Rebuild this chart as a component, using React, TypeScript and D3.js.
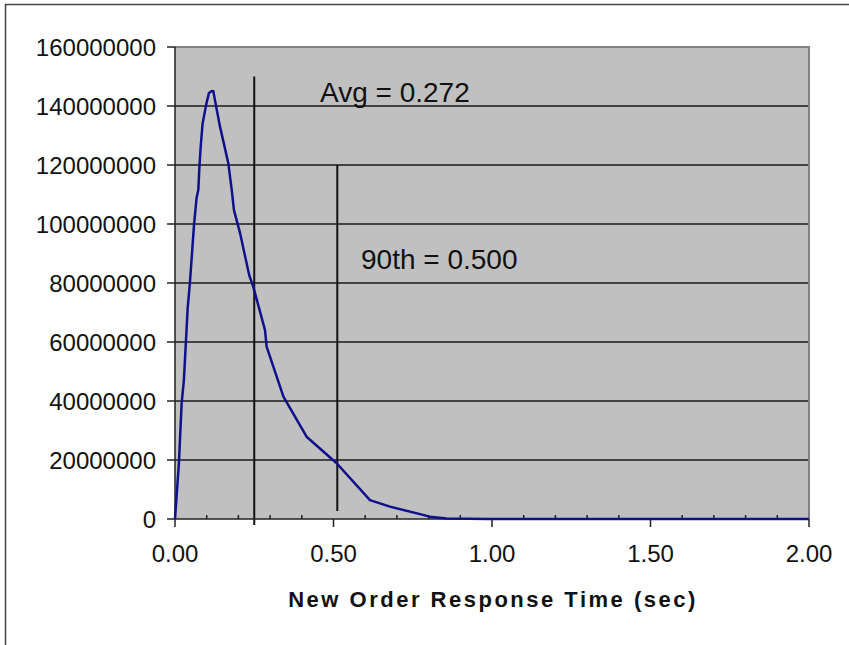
import React, { useEffect, useRef } from 'react';
import * as d3 from 'd3';

// response time (sec) vs. count
const times = [0, 0.0126, 0.021, 0.028, 0.04, 0.047, 0.06, 0.068, 0.0735, 0.077, 0.081, 0.087, 0.098, 0.107, 0.116, 0.121, 0.126, 0.142, 0.168, 0.179, 0.186, 0.205, 0.234, 0.247, 0.284, 0.289, 0.342, 0.415, 0.51, 0.615, 0.678, 0.804, 0.857, 0.99, 2.0];
const counts = [0, 19.4e6, 39.3e6, 47e6, 71.5e6, 80e6, 99.7e6, 108.8e6, 111.5e6, 119.4e6, 126.2e6, 134e6, 140.3e6, 144.4e6, 145.1e6, 145e6, 142e6, 133e6, 120.7e6, 111.5e6, 104.7e6, 97e6, 82.7e6, 78.7e6, 64e6, 58.4e6, 41.5e6, 27.9e6, 18.9e6, 6.4e6, 4.2e6, 0.8e6, 0.2e6, 0, 0];

const yTicks = [0, 20000000, 40000000, 60000000, 80000000, 100000000, 120000000, 140000000, 160000000];
const xMajor = [0, 0.5, 1.0, 1.5, 2.0];
const xMinor = [0.1, 0.2, 0.3, 0.4, 0.6, 0.7, 0.8, 0.9, 1.1, 1.2, 1.3, 1.4, 1.6, 1.7, 1.8, 1.9];

// vertical marker lines: [x, yFrom, yTo]
const avgLine = [0.25, 150e6, -2e6];
const p90Line = [0.512, 120e6, 2.7e6];
const avgLabel = 'Avg = 0.272';
const p90Label = '90th = 0.500';
const xTitle = 'New Order Response Time (sec)';

const W = 849;
const H = 645;
const FONT = '"Liberation Sans", Arial, sans-serif';

export default function App() {
  const ref = useRef<SVGSVGElement>(null);

  useEffect(() => {
    document.body.style.margin = '0';
    const svg = d3.select(ref.current);
    svg.selectAll('*').remove();

    const left = 175, right = 809, top = 47, bottom = 519;
    const x = d3.scaleLinear().domain([0, 2]).range([left, right]);
    const y = d3.scaleLinear().domain([0, 160000000]).range([bottom, top]);

    svg.append('rect').attr('width', W).attr('height', H).attr('fill', '#fff');

    // outer frame (cut off at right and bottom)
    svg.append('path')
      .attr('d', `M5.5,${H + 5} V4.5 H${W + 5}`)
      .attr('fill', 'none')
      .attr('stroke', '#444')
      .attr('stroke-width', 1.5);

    // plot area
    svg.append('rect')
      .attr('x', left).attr('y', top)
      .attr('width', right - left).attr('height', bottom - top)
      .attr('fill', '#c0c0c0');

    // horizontal gridlines
    svg.append('g').selectAll('line')
      .data(yTicks.filter(d => d > 0 && d < 160000000))
      .join('line')
      .attr('x1', left).attr('x2', right)
      .attr('y1', d => y(d)).attr('y2', d => y(d))
      .attr('stroke', '#1a1a1a').attr('stroke-width', 1.5);

    // gray frame on top and right
    svg.append('path')
      .attr('d', `M${left},${top} H${right} V${bottom}`)
      .attr('fill', 'none')
      .attr('stroke', '#808080')
      .attr('stroke-width', 2);

    // y axis
    svg.append('line')
      .attr('x1', left).attr('x2', left).attr('y1', top).attr('y2', bottom)
      .attr('stroke', '#222').attr('stroke-width', 1.5);
    svg.append('g').selectAll('line')
      .data(yTicks)
      .join('line')
      .attr('x1', left - 8).attr('x2', left)
      .attr('y1', d => y(d)).attr('y2', d => y(d))
      .attr('stroke', '#222').attr('stroke-width', 1.5);
    svg.append('g').selectAll('text')
      .data(yTicks)
      .join('text')
      .attr('x', left - 19)
      .attr('y', d => y(d))
      .attr('dy', '0.36em')
      .attr('text-anchor', 'end')
      .attr('font-family', FONT)
      .attr('font-size', 24)
      .attr('fill', '#111')
      .text(d => String(d));

    // marker lines
    [avgLine, p90Line].forEach(l => {
      svg.append('line')
        .attr('x1', x(l[0])).attr('x2', x(l[0]))
        .attr('y1', y(l[1])).attr('y2', y(l[2]))
        .attr('stroke', '#111').attr('stroke-width', 2);
    });

    // x axis
    svg.append('line')
      .attr('x1', left).attr('x2', right).attr('y1', bottom).attr('y2', bottom)
      .attr('stroke', '#222').attr('stroke-width', 1.5);
    svg.append('g').selectAll('line')
      .data(xMinor)
      .join('line')
      .attr('x1', d => x(d)).attr('x2', d => x(d))
      .attr('y1', bottom - 4).attr('y2', bottom)
      .attr('stroke', '#222').attr('stroke-width', 1.5);
    svg.append('g').selectAll('line')
      .data(xMajor)
      .join('line')
      .attr('x1', d => x(d)).attr('x2', d => x(d))
      .attr('y1', bottom).attr('y2', bottom + 8)
      .attr('stroke', '#222').attr('stroke-width', 1.5);
    svg.append('g').selectAll('text')
      .data(xMajor)
      .join('text')
      .attr('x', d => x(d))
      .attr('y', bottom + 43)
      .attr('text-anchor', 'middle')
      .attr('font-family', FONT)
      .attr('font-size', 24)
      .attr('fill', '#111')
      .text(d => d.toFixed(2));

    // data line
    const pts = times.map((t, i) => [t, counts[i]] as [number, number]);
    svg.append('path')
      .datum(pts)
      .attr('fill', 'none')
      .attr('stroke', '#10108a')
      .attr('stroke-width', 2.5)
      .attr('stroke-linejoin', 'round')
      .attr('d', d3.line<[number, number]>().x(d => x(d[0])).y(d => y(d[1])));

    // annotations
    svg.append('text')
      .attr('x', left + 145).attr('y', 102)
      .attr('font-family', FONT).attr('font-size', 28).attr('fill', '#111')
      .text(avgLabel);
    svg.append('text')
      .attr('x', left + 186).attr('y', 269)
      .attr('font-family', FONT).attr('font-size', 28).attr('fill', '#111')
      .text(p90Label);

    // x title
    svg.append('text')
      .attr('x', (left + right) / 2 + 1)
      .attr('y', 607)
      .attr('text-anchor', 'middle')
      .attr('font-family', FONT)
      .attr('font-size', 22)
      .attr('font-weight', 'bold')
      .attr('letter-spacing', 2.5)
      .attr('fill', '#111')
      .text(xTitle);
  }, []);

  return <svg ref={ref} width={W} height={H} style={{ display: 'block' }} />;
}
